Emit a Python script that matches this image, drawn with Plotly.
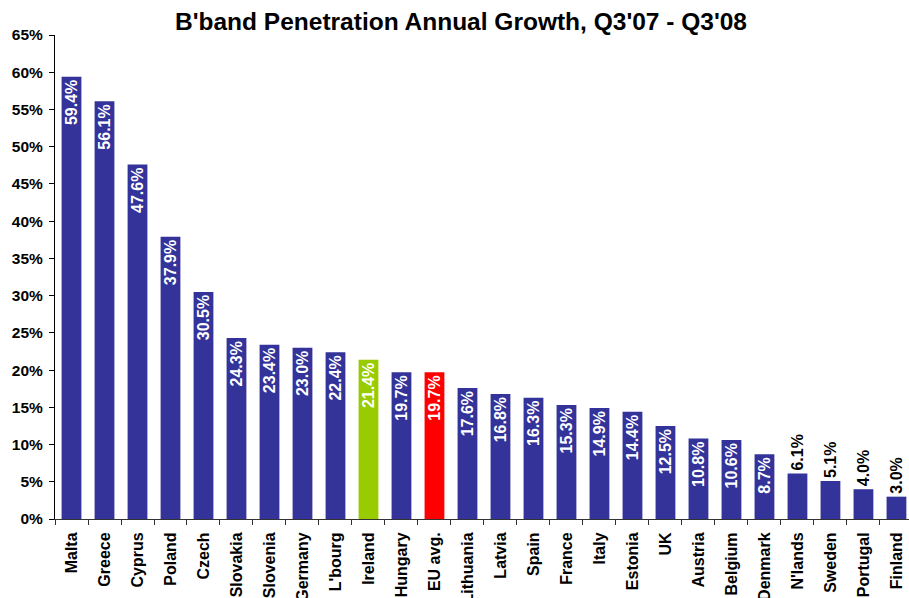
import plotly.graph_objects as go

countries = ["Malta", "Greece", "Cyprus", "Poland", "Czech", "Slovakia", "Slovenia",
             "Germany", "L'bourg", "Ireland", "Hungary", "EU avg.", "Lithuania", "Latvia",
             "Spain", "France", "Italy", "Estonia", "UK", "Austria", "Belgium", "Denmark",
             "N'lands", "Sweden", "Portugal", "Finland"]
growth = [59.4, 56.1, 47.6, 37.9, 30.5, 24.3, 23.4, 23.0, 22.4, 21.4, 19.7, 19.7, 17.6,
          16.8, 16.3, 15.3, 14.9, 14.4, 12.5, 10.8, 10.6, 8.7, 6.1, 5.1, 4.0, 3.0]
y_ticks = list(range(0, 70, 5))

NAVY = "#333399"
highlight = {"Ireland": "#99CC00", "EU avg.": "#FF0000"}
bar_colors = [highlight.get(c, NAVY) for c in countries]

# Short bars carry their label above the bar, the rest inside at the top
positions = ["outside" if v < 8 else "inside" for v in growth]

FONT = "Liberation Sans, Arial, sans-serif"

fig = go.Figure(go.Bar(
    x=countries,
    y=growth,
    width=0.6,
    marker=dict(color=bar_colors, line=dict(width=0)),
    text=[f"{v:.1f}%" for v in growth],
    textposition=positions,
    textangle=-90,
    insidetextanchor="end",
    insidetextfont=dict(color="white", size=16, family=FONT, weight="bold"),
    outsidetextfont=dict(color="black", size=16, family=FONT, weight="bold"),
    constraintext="none",
    cliponaxis=False,
))

fig.update_layout(
    width=909, height=598,
    margin=dict(l=55, r=0, t=35, b=79),
    paper_bgcolor="white", plot_bgcolor="white",
    font=dict(family=FONT, color="black"),
    showlegend=False,
    title=dict(
        text="<b>B'band Penetration Annual Growth, Q3'07 - Q3'08</b>",
        x=461 / 909, xanchor="center", xref="container",
        y=1 - 21 / 598, yanchor="middle", yref="container",
        font=dict(size=24.5, family=FONT, color="black"),
    ),
)

fig.update_xaxes(
    range=[-0.5, 25.38],
    showline=True, linecolor="#333333", linewidth=1,
    ticks="outside", tickson="boundaries", ticklen=5, tickcolor="#333333",
    tickangle=-90, ticklabelstandoff=6,
    tickfont=dict(size=16, family=FONT, weight="bold", color="black"),
    showgrid=False, automargin=False,
)

fig.update_yaxes(
    range=[0, 65],
    tickvals=y_ticks,
    ticktext=[f"{t}%" for t in y_ticks],
    showline=True, linecolor="black", linewidth=1,
    ticks="outside", ticklen=5, tickcolor="black", ticklabelstandoff=3,
    tickfont=dict(size=15.5, family=FONT, weight="bold", color="black"),
    showgrid=False, zeroline=False, automargin=False,
)

fig.write_html("out.html")
